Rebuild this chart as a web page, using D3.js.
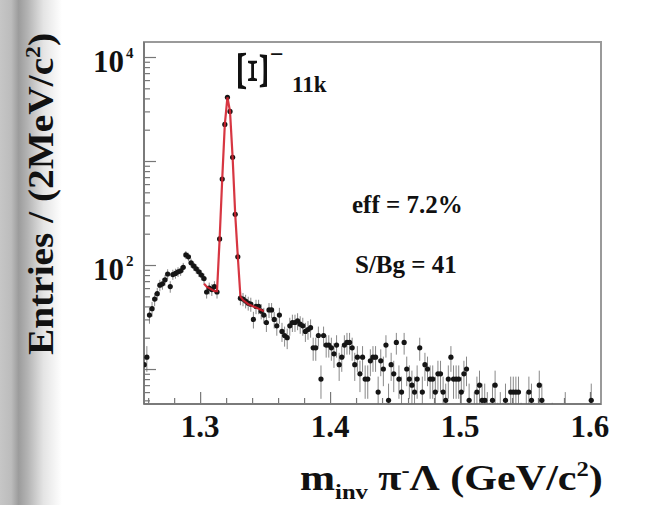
<!DOCTYPE html>
<html>
<head>
<meta charset="utf-8">
<script src="https://cdn.jsdelivr.net/npm/d3@7"></script>
<style>
  html, body { margin: 0; padding: 0; background: #fff; }
  svg { display: block; }
  text { font-family: "Liberation Serif", "Times New Roman", serif; font-weight: bold; fill: #111; }
</style>
</head>
<body>
<div id="chart"></div>
<script>
// Xi- -> pi- Lambda invariant mass, 2 MeV bins starting at 1.256 GeV
const binStart = 1.256;
const binWidth = 0.002;
const counts = [
  11, 13, 33, 38, 47, 53, 64, 66, 72, 82,
  62, 81, 83, 86, 88, 95, 125, 120, 105, 98,
  92, 86, 80, 74, 55, 60, 58, 62, 55, 178,
  670, 2250, 4100, 3000, 1085, 307, 120, 48, 47, 45,
  43, 42, 30, 40, 40, 36, 33, 28, 37, 37,
  30, 26, 33, 23, 21, 20, 26, 28, 28, 29,
  27, 26, 23, 24, 25, 16, 16, 21, 8, 21,
  17, 17, 16, 14, 17, 11, 13, 17, 18, 18,
  16, 11, 13, 9, 13, 8, 8, 12, 13, 13,
  6, 12, 10, 17, 5, 11, 9, 18, 8, 6,
  18, 10, 8, 7, 6, 8, 16, 6, 11, 10,
  8, 8, 6, 9, 9, 6, 5, 8, 13, 8,
  8, 8, 6, 9, 10, 5, 3, 4, 6, 7,
  5, 5, 4, 3, 5, 7, 3, 4, 3, 5,
  3, 6, 6, 6, 6, 3, 2, 4, 6, 5,
  3, 2, 7, 5, 3, 2, 1, 3, 2, 1,
  2, 1, 4, 2, 1, 2, 1, 0, 1, 2,
  1, 0, 5, 1, 0, 1
];

// fitted curve (signal + background), sampled at the bin centres from 1.303 GeV
const fitStart = 1.303;
const fitValues = [
  66, 62, 60, 58, 56, 56, 178, 670, 2250, 4100,
  3000, 1085, 307, 120, 50, 46, 44, 42, 41, 40,
  39, 38, 37, 36
];

const xTicks = [1.3, 1.4, 1.5, 1.6];
const yLabelled = [100, 10000];

const width = 651;
const height = 505;
const margin = {top: 42, right: 50, bottom: 101, left: 144};

const svg = d3.select('#chart').append('svg')
  .attr('width', width)
  .attr('height', height);

// grey strip on the left edge of the slide
const grad = svg.append('defs').append('linearGradient')
  .attr('id', 'edge')
  .attr('x1', 0).attr('x2', 1).attr('y1', 0).attr('y2', 0);
[[0, '#c6c6c6'], [0.18, '#bcbcbc'], [0.3, '#9c9c9c'], [0.45, '#b4b4b4'], [0.7, '#e4e4e4'], [1, '#ffffff']]
  .forEach(([o, c]) => grad.append('stop').attr('offset', o).attr('stop-color', c));
svg.append('rect').attr('width', 62).attr('height', height).attr('fill', 'url(#edge)');

const x = d3.scaleLinear()
  .domain([1.2568, 1.6085])
  .range([margin.left, width - margin.right]);

const y = d3.scaleLog()
  .domain([4.61, 13940])
  .range([height - margin.bottom, margin.top]);

const bins = counts.map((c, i) => ({m: binStart + binWidth * (i + 0.5), n: c}));
const fit = fitValues.map((v, i) => ({m: fitStart + binWidth * i, v: v}));

const plot = svg.append('g');

// axes: ticks point into the frame
const yMajor = [10, 100, 1000, 10000];
const yMinor = y.ticks().filter(t => !yMajor.includes(t));
const xMinor = d3.range(1.26, 1.601, 0.02).filter(t => !xTicks.some(v => Math.abs(v - t) < 1e-6));

const axisStyle = g => {
  g.selectAll('.tick text').remove();
  g.selectAll('line').attr('stroke', '#777').attr('stroke-width', 1.2);
  g.select('.domain').remove();
};

plot.append('g')
  .attr('transform', `translate(${margin.left},0)`)
  .call(d3.axisLeft(y).tickValues(yMajor).tickSize(-12))
  .call(axisStyle);
plot.append('g')
  .attr('transform', `translate(${margin.left},0)`)
  .call(d3.axisLeft(y).tickValues(yMinor).tickSize(-6))
  .call(axisStyle);
plot.append('g')
  .attr('transform', `translate(0,${height - margin.bottom})`)
  .call(d3.axisBottom(x).tickValues(xTicks).tickSize(-12))
  .call(axisStyle);
plot.append('g')
  .attr('transform', `translate(0,${height - margin.bottom})`)
  .call(d3.axisBottom(x).tickValues(xMinor).tickSize(-6))
  .call(axisStyle);

// frame
plot.append('rect')
  .attr('x', margin.left)
  .attr('y', margin.top)
  .attr('width', width - margin.right - margin.left)
  .attr('height', height - margin.bottom - margin.top)
  .attr('fill', 'none')
  .attr('stroke', '#9a9a9a')
  .attr('stroke-width', 2);
plot.append('line')
  .attr('x1', margin.left).attr('x2', margin.left)
  .attr('y1', margin.top).attr('y2', height - margin.bottom)
  .attr('stroke', '#6f6f6f').attr('stroke-width', 1.5);
plot.append('line')
  .attr('x1', margin.left).attr('x2', width - margin.right)
  .attr('y1', height - margin.bottom).attr('y2', height - margin.bottom)
  .attr('stroke', '#6f6f6f').attr('stroke-width', 1.5);

// data
svg.append('clipPath').attr('id', 'frame').append('rect')
  .attr('x', margin.left).attr('y', margin.top)
  .attr('width', width - margin.right - margin.left)
  .attr('height', height - margin.bottom - margin.top);

const data = plot.append('g').attr('clip-path', 'url(#frame)');
const yMin = y.domain()[0];

data.selectAll('.err')
  .data(bins.filter(d => d.n > 0 && d.n + Math.sqrt(d.n) > yMin))
  .enter().append('line')
    .attr('class', 'err')
    .attr('x1', d => x(d.m)).attr('x2', d => x(d.m))
    .attr('y1', d => y(Math.max(d.n - Math.sqrt(d.n), 0.5)))
    .attr('y2', d => y(d.n + Math.sqrt(d.n)))
    .attr('stroke', '#6a6a6a')
    .attr('stroke-opacity', 0.8)
    .attr('stroke-width', 1);

data.selectAll('.pt')
  .data(bins.filter(d => d.n >= yMin))
  .enter().append('circle')
    .attr('class', 'pt')
    .attr('cx', d => x(d.m))
    .attr('cy', d => y(d.n))
    .attr('r', 2.6)
    .attr('fill', '#151515');

data.append('path')
  .datum(fit)
  .attr('d', d3.line().x(d => x(d.m)).y(d => y(d.v)))
  .attr('fill', 'none')
  .attr('stroke', '#d3202e')
  .attr('stroke-width', 2.2)
  .attr('stroke-opacity', 0.9);

// tick labels
svg.selectAll('.xl')
  .data(xTicks)
  .enter().append('text')
    .attr('class', 'xl')
    .attr('x', d => x(d))
    .attr('y', 437)
    .attr('text-anchor', 'middle')
    .style('font-size', '31px')
    .text(d => d.toFixed(1));

yLabelled.forEach(v => {
  svg.append('text')
    .attr('x', 124)
    .attr('y', y(v) + 15)
    .attr('text-anchor', 'end')
    .style('font-size', '31px')
    .text('10');
  svg.append('text')
    .attr('x', 126)
    .attr('y', y(v) + 1)
    .style('font-size', '15px')
    .text(Math.round(Math.log10(v)));
});

// axis titles
svg.append('text')
  .attr('transform', 'translate(53,355) rotate(-90)')
  .attr('textLength', 322)
  .attr('lengthAdjust', 'spacingAndGlyphs')
  .style('font-size', '35px')
  .text('Entries / (2MeV/c')
  .call(t => t.append('tspan').attr('dy', -13).style('font-size', '21px').text('2'))
  .call(t => t.append('tspan').attr('dy', 13).text(')'));

const xt = svg.append('text')
  .attr('transform', 'translate(300,490) scale(1.17,1)')
  .style('font-size', '36px');
xt.append('tspan').text('m');
xt.append('tspan').attr('dy', 9).style('font-size', '21px').text('inv');
xt.append('tspan').attr('dy', -9).text(' π');
xt.append('tspan').attr('dy', -13).style('font-size', '21px').text('-');
xt.append('tspan').attr('dy', 13).text('Λ (GeV/c');
xt.append('tspan').attr('dy', -14).style('font-size', '21px').text('2');
xt.append('tspan').attr('dy', 14).text(')');

// annotations
svg.append('text')
  .attr('transform', 'translate(253,71) rotate(90) scale(1.55,1)')
  .attr('text-anchor', 'middle')
  .attr('dy', '0.33em')
  .style('font-size', '44px')
  .style('font-weight', 'normal')
  .text('Ξ');
svg.append('text').attr('x', 270).attr('y', 62).style('font-size', '24px').text('−');
svg.append('text').attr('x', 292).attr('y', 92).style('font-size', '23px').text('11k');
svg.append('text').attr('x', 352).attr('y', 213).style('font-size', '25px').text('eff = 7.2%');
svg.append('text').attr('x', 355).attr('y', 273).style('font-size', '25px').text('S/Bg = 41');
</script>
</body>
</html>
